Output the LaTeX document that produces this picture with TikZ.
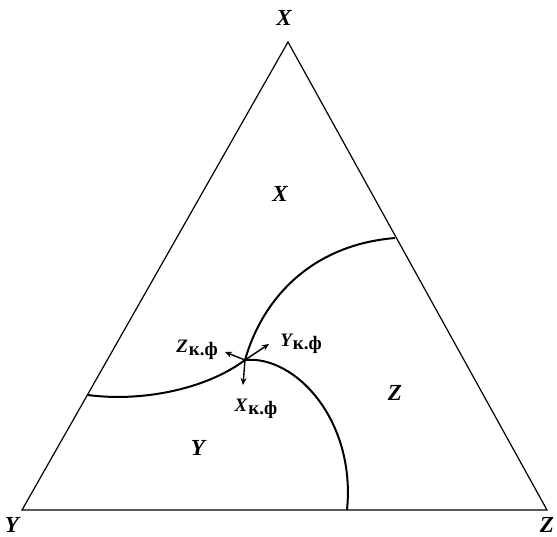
\documentclass[tikz,border=0pt]{standalone}
\usepackage{fontspec}
\setmainfont{Liberation Serif}
\usetikzlibrary{arrows.meta}
\newcommand\phaselab[1]{{\bfseries\itshape #1}\kern1pt\raisebox{-3pt}{\bfseries к.ф}}
\begin{document}
\begin{tikzpicture}[x=1pt,y=-1pt,
  edge/.style={line width=1.2pt},
  phase/.style={line width=2pt},
  vec/.style={line width=1.4pt,-{Stealth[length=7pt,width=6pt]}},
  big/.style={font=\fontsize{23}{26}\selectfont\bfseries\itshape, inner sep=0pt},
  small/.style={font=\fontsize{19}{22}\selectfont, inner sep=0pt}]
\useasboundingbox (0,0) rectangle (557,536);
% corners
\coordinate (A) at (288,42);
\coordinate (B) at (22,510);
\coordinate (C) at (547,510);
\draw[edge, line join=miter] (A) -- (B) -- (C) -- cycle;
% curve ends
\coordinate (J) at (245,360);
\coordinate (Le) at (88,395);
\coordinate (Re) at (395,238);
\coordinate (Be) at (347,510);
\draw[phase] (Le) .. controls (140,402) and (205,390) .. (J);
\draw[phase] (J) .. controls (262,300) and (310,245) .. (Re);
\draw[phase] (J) .. controls (295,355) and (356,420) .. (Be);
% arrows
\coordinate (tl) at (225,352);
\coordinate (tr) at (269,344);
\coordinate (td) at (243,385);
\draw[vec] (J) -- (tl);
\draw[vec] (J) -- (tr);
\draw[vec] (J) -- (td);
% labels
\node[big] (lA) at (284,18) {X};
\node[big] (lB) at (12,525) {Y};
\node[big] (lC) at (547,525) {Z};
\node[big] (rX) at (280,194) {X};
\node[big] (rZ) at (395,393) {Z};
\node[big] (rY) at (198,448) {Y};
\node[small] (kZ) at (197,350) {\phaselab{Z}};
\node[small] (kY) at (301,344) {\phaselab{Y}};
\node[small] (kX) at (256,409) {\phaselab{X}};
\end{tikzpicture}
\end{document}
